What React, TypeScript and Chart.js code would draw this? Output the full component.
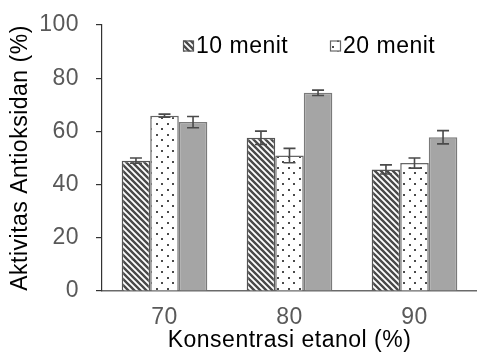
import React, { useEffect, useRef } from "react";
import { Chart, registerables } from "chart.js";

Chart.register(...registerables);

const categories = ["70", "80", "90"];
const seriesLabels = ["10 menit", "20 menit", "30 menit"];
const values10 = [49, 57.6, 45.7];
const values20 = [65.9, 50.9, 48.1];
const values30 = [63.5, 74.5, 57.8];
const errors10 = [1, 2.5, 1.7];
const errors20 = [0.6, 2.7, 1.9];
const errors30 = [2.1, 1, 2.5];
const yTicks = [0, 20, 40, 60, 80, 100];

const FONT = "'Liberation Sans', Arial, sans-serif";
const FONT_SIZE = 23;
const DARK = "#4a4a4a";
const SPACING = "0.5px";

function makeHatch(): CanvasPattern | string {
  const s = 6;
  const c = document.createElement("canvas");
  c.width = s;
  c.height = s;
  const ctx = c.getContext("2d");
  if (!ctx) return "#888";
  ctx.fillStyle = "#ffffff";
  ctx.fillRect(0, 0, s, s);
  ctx.strokeStyle = DARK;
  ctx.lineWidth = 2.4;
  ctx.beginPath();
  ctx.moveTo(-1, -1);
  ctx.lineTo(s + 1, s + 1);
  ctx.moveTo(s - 1, -1);
  ctx.lineTo(s + 1, 1);
  ctx.moveTo(-1, s - 1);
  ctx.lineTo(1, s + 1);
  ctx.stroke();
  return ctx.createPattern(c, "repeat") || "#888";
}

function makeDots(): CanvasPattern | string {
  const s = 11;
  const c = document.createElement("canvas");
  c.width = s;
  c.height = s;
  const ctx = c.getContext("2d");
  if (!ctx) return "#fff";
  ctx.fillStyle = "#ffffff";
  ctx.fillRect(0, 0, s, s);
  ctx.fillStyle = DARK;
  ctx.fillRect(2, 2, 2, 2);
  ctx.fillRect(7, 7, 2, 2);
  return ctx.createPattern(c, "repeat") || "#fff";
}

const spacingPlugin = {
  id: "letterSpacing",
  beforeUpdate(chart: any) {
    (chart.ctx as any).letterSpacing = SPACING;
  },
  beforeLayout(chart: any) {
    (chart.ctx as any).letterSpacing = SPACING;
  },
  beforeDraw(chart: any) {
    (chart.ctx as any).letterSpacing = SPACING;
  },
};

const errorBarPlugin = {
  id: "errorBars",
  afterDatasetsDraw(chart: any) {
    const ctx = chart.ctx;
    const yScale = chart.scales.y;
    const errs = [errors10, errors20, errors30];
    ctx.save();
    ctx.strokeStyle = DARK;
    ctx.lineWidth = 1.6;
    chart.data.datasets.forEach((ds: any, di: number) => {
      const meta = chart.getDatasetMeta(di);
      meta.data.forEach((bar: any, i: number) => {
        const v = ds.data[i];
        const e = errs[di][i];
        const yTop = yScale.getPixelForValue(v + e);
        const yBot = yScale.getPixelForValue(v - e);
        const x = bar.x;
        const cap = 6;
        ctx.beginPath();
        ctx.moveTo(x, yTop);
        ctx.lineTo(x, yBot);
        ctx.moveTo(x - cap, yTop);
        ctx.lineTo(x + cap, yTop);
        ctx.moveTo(x - cap, yBot);
        ctx.lineTo(x + cap, yBot);
        ctx.stroke();
      });
    });
    ctx.restore();
  },
};

const legendPlugin = {
  id: "innerLegend",
  afterDraw(chart: any) {
    const ctx = chart.ctx;
    const area = chart.chartArea;
    const items = [0, 1];
    const xs = [area.left + 81, area.left + 228];
    const y = area.top + 21;
    ctx.save();
    ctx.letterSpacing = SPACING;
    ctx.font = `${FONT_SIZE}px ${FONT}`;
    ctx.textBaseline = "middle";
    ctx.textAlign = "left";
    items.forEach((di, k) => {
      const ds = chart.data.datasets[di];
      const bx = xs[k];
      const box = 11;
      ctx.fillStyle = ds.backgroundColor;
      ctx.fillRect(bx, y - box / 2, box, box);
      ctx.strokeStyle = ds.borderColor;
      ctx.lineWidth = 1.2;
      ctx.strokeRect(bx + 0.5, y - box / 2 + 0.5, box - 1, box - 1);
      ctx.fillStyle = "#000000";
      ctx.fillText(ds.label, bx + box + 2, y + 1);
    });
    ctx.restore();
  },
};

export default function App() {
  const ref = useRef<HTMLCanvasElement | null>(null);
  useEffect(() => {
    document.body.style.margin = "0";
    const canvas = ref.current;
    if (!canvas) return;
    const chart = new Chart(canvas, {
      type: "bar",
      data: {
        labels: categories,
        datasets: [
          {
            label: seriesLabels[0],
            data: values10,
            backgroundColor: makeHatch() as any,
            borderColor: "#555555",
            borderWidth: 1.5,
          },
          {
            label: seriesLabels[1],
            data: values20,
            backgroundColor: makeDots() as any,
            borderColor: "#666666",
            borderWidth: 1.5,
          },
          {
            label: seriesLabels[2],
            data: values30,
            backgroundColor: "#a5a5a5",
            borderColor: "#7a7a7a",
            borderWidth: 1.5,
          },
        ],
      },
      options: {
        animation: false,
        responsive: false,
        maintainAspectRatio: false,
        layout: { padding: { top: 25, right: 0, bottom: 0, left: 0 } },
        datasets: {
          bar: { categoryPercentage: 0.685, barPercentage: 1 },
        },
        plugins: {
          legend: { display: false },
          tooltip: { enabled: false },
        },
        scales: {
          x: {
            grid: { display: false },
            border: { display: true, color: "#6a6a6a", width: 1.5 },
            ticks: {
              color: "#595959",
              font: { family: FONT, size: FONT_SIZE },
              padding: 5,
            },
            title: {
              display: true,
              text: "Konsentrasi etanol (%)",
              color: "#000000",
              font: { family: FONT, size: FONT_SIZE },
              padding: { top: 0, bottom: 0 },
            },
            afterFit(scale: any) {
              scale.height = 63;
              scale.paddingLeft = 0;
              scale.paddingRight = 0;
            },
          },
          y: {
            min: 0,
            max: 100,
            afterBuildTicks(scale: any) {
              scale.ticks = yTicks.map((v) => ({ value: v }));
            },
            grid: {
              display: true,
              drawOnChartArea: false,
              drawTicks: true,
              tickLength: 6,
              color: "#333333",
              lineWidth: 1.2,
            },
            border: { display: true, color: "#333333", width: 1.2 },
            ticks: {
              color: "#595959",
              font: { family: FONT, size: FONT_SIZE },
              padding: 17,
            },
            title: {
              display: true,
              text: "Aktivitas Antioksidan (%)",
              color: "#000000",
              font: { family: FONT, size: FONT_SIZE },
              padding: { top: 7, bottom: 0 },
            },
            afterFit(scale: any) {
              scale.width = 102;
              scale.paddingTop = 0;
              scale.paddingBottom = 0;
            },
          },
        },
      },
      plugins: [spacingPlugin, errorBarPlugin, legendPlugin],
    });
    return () => chart.destroy();
  }, []);
  return (
    <div style={{ width: 477, height: 354 }}>
      <canvas ref={ref} width={477} height={354} style={{ display: "block" }} />
    </div>
  );
}
